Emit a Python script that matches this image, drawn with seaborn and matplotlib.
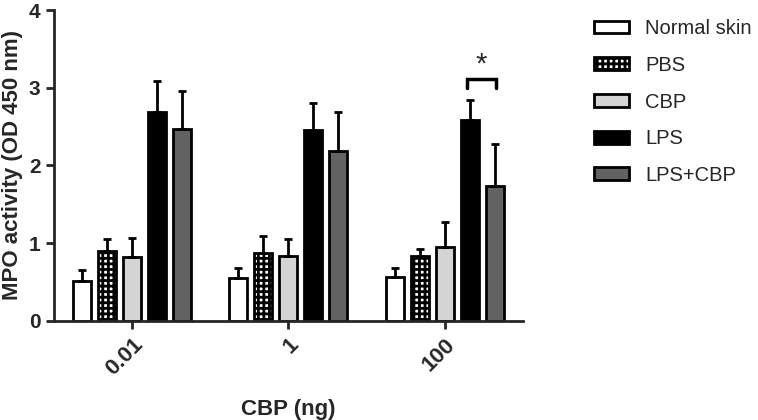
import numpy as np
import pandas as pd
import matplotlib
matplotlib.use("Agg")
import matplotlib.pyplot as plt
import seaborn as sns
from matplotlib.patches import Patch

# values
doses = ["0.01", "1", "100"]
groups = ["Normal skin", "PBS", "CBP", "LPS", "LPS+CBP"]
means = {
    "Normal skin": [0.51, 0.55, 0.57],
    "PBS": [0.90, 0.88, 0.84],
    "CBP": [0.82, 0.83, 0.95],
    "LPS": [2.69, 2.46, 2.59],
    "LPS+CBP": [2.47, 2.19, 1.73],
}
sds = {
    "Normal skin": [0.15, 0.13, 0.11],
    "PBS": [0.15, 0.21, 0.09],
    "CBP": [0.25, 0.22, 0.32],
    "LPS": [0.40, 0.34, 0.25],
    "LPS+CBP": [0.49, 0.50, 0.55],
}
colors = ["white", "white", "#d4d4d4", "black", "#626262"]
hatches = [None, "+++", None, None, None]

rows = []
for g in groups:
    for d, m in zip(doses, means[g]):
        rows.append({"dose": d, "group": g, "mpo": m})
df = pd.DataFrame(rows)

sns.set_style("ticks")
plt.rcParams["font.family"] = ["Liberation Sans", "DejaVu Sans"]
plt.rcParams["hatch.linewidth"] = 2.0

fig = plt.figure(figsize=(7.58, 4.20), dpi=100)
ax = fig.add_axes([0.071, 0.236, 0.619, 0.74])

sns.barplot(
    data=df, x="dose", y="mpo", hue="group",
    order=doses, hue_order=groups, palette=colors,
    width=0.8, gap=0.28, errorbar=None,
    edgecolor="black", linewidth=2, legend=False, ax=ax
)
bars = list(ax.containers)

# hatch + error bars (upper only)
for i, cont in enumerate(bars):
    g = groups[i]
    for j, bar in enumerate(cont):
        if hatches[i]:
            bar.set_hatch(hatches[i])
        xc = bar.get_x() + bar.get_width() / 2
        ax.errorbar(xc, bar.get_height(), yerr=[[0], [sds[g][j]]],
                    fmt="none", ecolor="black", elinewidth=2,
                    capsize=3, capthick=2, zorder=1)

# significance bracket between LPS and LPS+CBP at 100 ng
b1 = bars[3][2]
b2 = bars[4][2]
x1 = b1.get_x() + b1.get_width() / 2 - 0.02
x2 = b2.get_x() + b2.get_width() / 2 + 0.01
ax.plot([x1, x1, x2, x2], [3.0, 3.11, 3.11, 3.0], color="black", lw=2.5,
        solid_joinstyle="miter")
ax.text((x1 + x2) / 2, 3.12, "*", ha="center", va="bottom", fontsize=21)

ax.set_xlim(-0.5, 2.5)
ax.set_ylim(0, 4)
ax.set_yticks([0, 1, 2, 3, 4])
ax.set_xlabel("CBP (ng)", fontsize=16, fontweight="bold", labelpad=14)
ax.set_ylabel("MPO activity (OD 450 nm)", fontsize=16, fontweight="bold",
              labelpad=4)
ax.tick_params(axis="both", width=2, length=6, labelsize=15)
ax.tick_params(axis="x", labelsize=16)
for lab in ax.get_yticklabels():
    lab.set_fontweight("bold")
for lab in ax.get_xticklabels():
    lab.set_fontweight("bold")
    lab.set_rotation(45)
    lab.set_ha("right")
    lab.set_rotation_mode("anchor")
for s in ["left", "bottom"]:
    ax.spines[s].set_linewidth(2)
sns.despine(ax=ax)

handles = [Patch(facecolor=c, edgecolor="black", linewidth=2, hatch=h)
           for c, h in zip(colors, hatches)]
fig.legend(handles, groups, loc="upper left",
           bbox_to_anchor=(584 / 758, 1 - 9 / 420), frameon=False,
           fontsize=14.5, handlelength=1.75, handleheight=0.6,
           labelspacing=0.88, handletextpad=0.8, borderpad=0)

fig.savefig("out.png", dpi=100)
